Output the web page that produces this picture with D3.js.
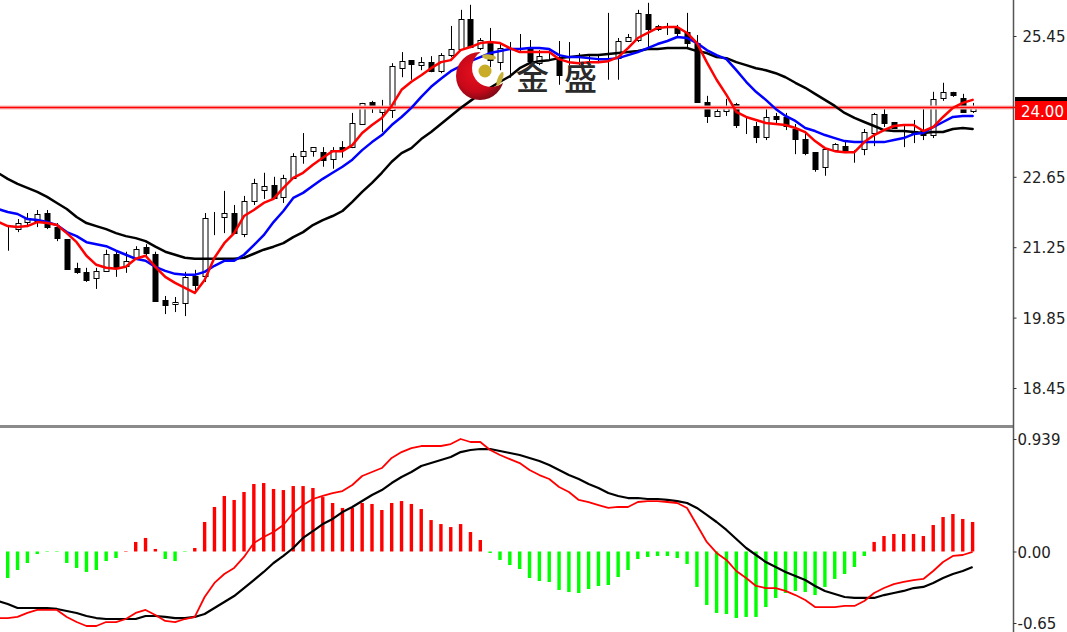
<!DOCTYPE html>
<html>
<head>
<meta charset="utf-8">
<script src="https://cdn.jsdelivr.net/npm/d3@7"></script>
<style>
html,body{margin:0;padding:0;background:#fff;overflow:hidden}
svg{display:block}
text{font-family:"DejaVu Sans",sans-serif}
</style>
</head>
<body>
<svg id="chart" width="1067" height="632"></svg>
<script>
const openV=[21.57,21.57,21.61,21.75,21.77,21.93,21.65,21.41,20.84,20.76,20.64,
20.78,21.12,20.88,21.04,21.26,21.12,20.20,20.12,20.14,20.68,
20.68,21.85,21.85,21.93,21.51,22.17,22.39,22.49,22.25,22.63,
23.06,23.16,23.14,23.01,23.24,23.24,23.70,24.14,23.94,23.98,
24.81,24.97,24.87,24.93,24.75,25.07,25.19,25.79,25.21,25.31,
24.93,25.17,25.19,25.19,24.91,25.13,25.03,25.01,25.03,25.01,
25.03,25.03,25.01,25.35,25.37,25.89,25.59,25.61,25.61,25.53,
25.31,24.14,23.86,23.96,24.10,23.66,23.66,23.44,23.86,23.84,
23.60,23.40,23.14,22.85,23.18,23.26,23.16,23.20,23.52,23.90,
23.74,23.56,23.56,23.58,23.48,24.22,24.34,24.22,23.96];
const closeV=[21.57,21.57,21.73,21.83,21.91,21.65,21.43,20.82,20.76,20.60,20.78,
21.12,20.84,20.98,21.22,21.14,20.18,20.10,20.16,20.66,20.50,
21.83,21.85,21.93,21.53,22.17,22.53,22.47,22.23,22.63,23.06,
23.16,23.24,22.99,23.18,23.20,23.72,24.12,24.08,24.02,24.85,
24.95,24.89,24.93,24.75,25.07,25.19,25.79,25.23,25.37,24.97,
25.21,25.17,25.19,24.95,25.05,25.13,24.67,25.01,25.03,25.01,
25.03,25.03,25.35,25.43,25.91,25.59,25.65,25.61,25.51,25.31,
24.14,23.86,23.96,24.06,23.68,23.66,23.44,23.84,23.80,23.66,
23.40,23.12,22.81,23.20,23.30,23.16,23.16,23.54,23.90,23.72,
23.62,23.56,23.52,23.48,24.20,24.34,24.28,23.94,24.06];
const highV=[21.60,21.69,21.81,21.93,21.99,21.99,21.73,21.41,20.94,20.84,20.84,
21.20,21.16,21.16,21.27,21.31,21.16,20.28,20.26,20.76,20.80,
21.93,21.95,22.37,22.09,22.27,22.61,22.73,22.65,22.69,23.12,
23.52,23.24,23.24,23.24,23.36,23.92,24.12,24.16,24.18,24.91,
25.13,24.97,25.03,25.05,25.11,25.65,25.97,26.07,25.41,25.61,
25.31,25.33,25.49,25.37,25.17,25.21,25.35,25.33,25.11,25.07,
25.07,25.91,25.41,25.49,25.97,26.11,25.67,25.71,25.67,25.91,
25.47,24.26,24.04,24.20,24.12,23.84,23.74,24.02,23.92,23.92,
23.70,23.52,23.14,23.20,23.32,23.38,23.18,23.60,23.92,24.02,
23.74,23.68,23.78,24.04,24.34,24.52,24.34,24.30,24.12];
const lowV=[21.50,21.18,21.55,21.65,21.65,21.61,21.37,20.82,20.72,20.56,20.42,
20.76,20.66,20.74,21.04,21.06,20.18,19.92,19.96,19.88,20.38,
20.56,21.49,21.53,21.53,21.45,22.09,22.21,22.23,22.13,22.61,
22.91,23.05,22.85,22.81,23.03,23.22,23.68,23.92,23.54,23.82,
24.63,24.58,24.77,24.73,24.71,25.03,25.17,25.21,25.17,24.83,
24.77,24.62,25.13,24.93,24.87,24.97,24.48,24.87,24.87,24.83,
24.91,24.58,24.58,25.33,25.33,25.17,25.55,25.47,25.41,25.23,
24.12,23.72,23.86,23.86,23.62,23.50,23.32,23.38,23.72,23.58,
23.10,23.08,22.75,22.67,23.18,23.12,22.93,23.08,23.26,23.64,
23.60,23.24,23.32,23.38,23.42,24.16,24.24,23.92,23.92];
const maSlow=[22.73,22.61,22.51,22.43,22.35,22.25,22.13,22.01,21.85,21.73,21.67,
21.61,21.53,21.47,21.43,21.37,21.26,21.16,21.10,21.04,21.02,
21.02,21.02,21.02,21.02,21.04,21.12,21.20,21.26,21.33,21.45,
21.55,21.69,21.79,21.87,21.97,22.15,22.35,22.53,22.73,22.95,
23.12,23.22,23.40,23.54,23.70,23.86,24.02,24.16,24.30,24.42,
24.54,24.65,24.81,24.91,24.95,24.97,25.01,25.03,25.05,25.07,
25.07,25.09,25.11,25.13,25.15,25.19,25.19,25.21,25.21,25.21,
25.15,25.11,25.03,25.01,24.93,24.87,24.81,24.77,24.71,24.63,
24.52,24.42,24.30,24.18,24.06,23.92,23.82,23.74,23.66,23.58,
23.56,23.56,23.54,23.52,23.54,23.54,23.60,23.62,23.60];
const maMid=[22.01,21.95,21.91,21.81,21.79,21.75,21.69,21.55,21.47,21.35,21.31,
21.27,21.18,21.10,21.02,20.98,20.86,20.78,20.72,20.70,20.70,
20.76,20.88,20.98,20.98,21.10,21.29,21.49,21.75,21.97,22.23,
22.33,22.47,22.61,22.73,22.85,22.99,23.18,23.34,23.48,23.68,
23.84,24.02,24.24,24.44,24.60,24.75,24.85,24.95,25.03,25.11,
25.15,25.19,25.19,25.21,25.21,25.19,25.07,25.03,25.03,25.01,
24.99,24.99,25.01,25.07,25.13,25.21,25.29,25.35,25.43,25.41,
25.31,25.17,25.07,24.99,24.77,24.54,24.34,24.18,24.00,23.86,
23.76,23.62,23.56,23.48,23.42,23.36,23.34,23.34,23.34,23.34,
23.38,23.42,23.50,23.52,23.64,23.74,23.84,23.86,23.86];
const maFast=[21.76,21.67,21.65,21.67,21.75,21.73,21.69,21.53,21.35,21.08,20.90,
20.84,20.82,20.86,21.02,21.08,20.86,20.66,20.54,20.44,20.34,
20.60,21.04,21.33,21.53,21.87,21.99,22.13,22.21,22.43,22.63,
22.73,22.89,23.03,23.16,23.16,23.28,23.52,23.68,23.82,24.06,
24.38,24.54,24.67,24.81,24.93,24.97,25.17,25.23,25.31,25.33,
25.31,25.21,25.13,25.13,25.13,25.13,24.99,24.93,24.91,24.93,
24.93,24.95,25.03,25.21,25.41,25.51,25.61,25.63,25.63,25.51,
25.31,24.93,24.58,24.28,23.94,23.84,23.78,23.72,23.70,23.68,
23.62,23.54,23.36,23.22,23.16,23.14,23.14,23.34,23.48,23.58,
23.66,23.68,23.68,23.56,23.64,23.84,24.02,24.12,24.18];
const macdHist=[-0.25,-0.219,-0.153,-0.095,-0.021,-0.004,-0.004,-0.095,-0.136,-0.169,-0.153,
-0.079,-0.054,0.004,0.079,0.112,0.021,-0.062,-0.079,-0.004,0.029,
0.244,0.368,0.459,0.426,0.492,0.558,0.566,0.517,0.508,0.541,
0.541,0.525,0.450,0.401,0.360,0.360,0.401,0.393,0.343,0.401,
0.417,0.393,0.351,0.260,0.227,0.202,0.227,0.161,0.095,-0.012,
-0.070,-0.112,-0.145,-0.219,-0.244,-0.252,-0.318,-0.335,-0.343,-0.310,
-0.285,-0.277,-0.211,-0.153,-0.062,-0.045,-0.037,-0.037,-0.054,-0.103,
-0.293,-0.442,-0.508,-0.517,-0.550,-0.541,-0.541,-0.459,-0.384,-0.343,
-0.326,-0.335,-0.360,-0.293,-0.227,-0.186,-0.128,-0.037,0.079,0.128,
0.145,0.145,0.145,0.128,0.219,0.285,0.310,0.269,0.244];
const macdSignal=[-0.409,-0.434,-0.467,-0.467,-0.467,-0.467,-0.475,-0.492,-0.508,-0.533,-0.550,
-0.558,-0.558,-0.558,-0.558,-0.533,-0.533,-0.541,-0.550,-0.550,-0.541,
-0.517,-0.467,-0.417,-0.368,-0.302,-0.236,-0.169,-0.095,-0.037,0.029,
0.112,0.169,0.227,0.269,0.326,0.368,0.417,0.467,0.508,0.566,
0.616,0.657,0.707,0.731,0.756,0.781,0.822,0.839,0.847,0.847,
0.831,0.814,0.798,0.773,0.748,0.715,0.674,0.632,0.599,0.558,
0.525,0.483,0.459,0.442,0.442,0.434,0.434,0.426,0.417,0.401,
0.360,0.302,0.244,0.178,0.103,0.029,-0.029,-0.087,-0.128,-0.169,
-0.202,-0.236,-0.285,-0.326,-0.351,-0.376,-0.384,-0.384,-0.384,-0.360,
-0.343,-0.326,-0.302,-0.293,-0.260,-0.219,-0.186,-0.161,-0.128];
const macdLine=[-0.550,-0.550,-0.541,-0.508,-0.483,-0.483,-0.483,-0.541,-0.583,-0.616,-0.616,
-0.583,-0.583,-0.558,-0.508,-0.483,-0.525,-0.574,-0.583,-0.558,-0.541,
-0.376,-0.260,-0.186,-0.136,-0.045,0.070,0.120,0.161,0.219,0.318,
0.384,0.434,0.459,0.483,0.500,0.550,0.624,0.657,0.690,0.773,
0.822,0.855,0.872,0.872,0.872,0.888,0.930,0.905,0.905,0.839,
0.798,0.764,0.731,0.674,0.632,0.599,0.533,0.492,0.426,0.409,
0.384,0.360,0.368,0.368,0.409,0.417,0.417,0.409,0.401,0.360,
0.219,0.079,-0.012,-0.070,-0.161,-0.219,-0.285,-0.302,-0.302,-0.326,
-0.360,-0.401,-0.459,-0.459,-0.459,-0.450,-0.450,-0.409,-0.343,-0.302,
-0.269,-0.252,-0.236,-0.227,-0.161,-0.087,-0.037,-0.029,-0.004];
const priceTicks=[25.45,22.65,21.25,19.85,18.45];
const macdTicks=[0.939,0,-0.65];
const macdTickLabels=["0.939","0.00","-0.65"];
const lastPrice=24.03;
const lastPriceLabel="24.00";
const brandText="金盛";

const svg=d3.select("#chart");
const n=openV.length;
const x=d3.scaleLinear().domain([0,n-1]).range([-2.15,972.6]);
const yP=d3.scaleLinear().domain([18.45,25.45]).range([388,36]);
const yM=d3.scaleLinear().domain([0,0.939]).range([551.5,437.9]);
const yMAxis=d3.scaleLinear().domain([-0.65,0,0.939]).range([623,551.5,439]);
const idx=d3.range(n);

const defs=svg.append("defs");
defs.append("clipPath").attr("id","priceClip").append("rect").attr("width",1013).attr("height",424);
defs.append("clipPath").attr("id","macdClip").append("rect").attr("y",428).attr("width",1013).attr("height",204);
const grad=defs.append("radialGradient").attr("id","ball").attr("cx","0.42").attr("cy","0.42").attr("r","0.62");
grad.append("stop").attr("offset","0").attr("stop-color","#e8101c");
grad.append("stop").attr("offset","0.65").attr("stop-color","#c8081a");
grad.append("stop").attr("offset","1").attr("stop-color","#7a0a14");
const mask=defs.append("mask").attr("id","bite").attr("maskUnits","userSpaceOnUse")
  .attr("x",440).attr("y",40).attr("width",80).attr("height",70);
mask.append("rect").attr("x",440).attr("y",40).attr("width",80).attr("height",70).attr("fill","#fff");
mask.append("circle").attr("cx",491).attr("cy",68).attr("r",19).attr("fill","#000");

// price pane
const pane=svg.append("g").attr("clip-path","url(#priceClip)");
const px=i=>Math.round(x(i));

pane.append("g").selectAll("line").data(idx).join("line")
  .attr("x1",i=>px(i)+0.5).attr("x2",i=>px(i)+0.5)
  .attr("y1",i=>yP(highV[i])).attr("y2",i=>yP(lowV[i]))
  .attr("stroke","#000").attr("stroke-width",1);
pane.append("g").selectAll("rect").data(idx).join("rect")
  .attr("x",i=>px(i)-2).attr("width",5)
  .attr("y",i=>Math.round(yP(Math.max(openV[i],closeV[i])))+0.5)
  .attr("height",i=>Math.round(Math.abs(yP(openV[i])-yP(closeV[i]))))
  .attr("fill",i=>closeV[i]>openV[i]?"#fff":"#000")
  .attr("stroke","#000").attr("stroke-width",1);

// last price line
pane.append("line").attr("x1",0).attr("x2",1013).attr("y1",yP(lastPrice)).attr("y2",yP(lastPrice))
  .attr("stroke","#f7b5b5").attr("stroke-width",4);
pane.append("line").attr("x1",0).attr("x2",1013).attr("y1",yP(lastPrice)).attr("y2",yP(lastPrice))
  .attr("stroke","#f00").attr("stroke-width",1.5);

const linePrice=arr=>d3.line().x(i=>x(i)).y(i=>yP(arr[i]))(idx);
[[maSlow,"#000"],[maMid,"#0000ff"],[maFast,"#ff0000"]].forEach(([arr,c])=>{
  pane.append("path").attr("d",linePrice(arr)).attr("fill","none").attr("stroke",c)
    .attr("stroke-width",2.5).attr("stroke-linejoin","round").attr("stroke-linecap","round");
});

// watermark
const wm=svg.append("g");
wm.append("circle").attr("cx",480).attr("cy",76).attr("r",24).attr("fill","url(#ball)").attr("mask","url(#bite)");
wm.append("circle").attr("cx",485).attr("cy",71).attr("r",6.5).attr("fill","#c9ad28");
wm.append("ellipse").attr("cx",489).attr("cy",57).attr("rx",7).attr("ry",2.6).attr("transform","rotate(8 489 57)").attr("fill","#c9b23a");
wm.append("ellipse").attr("cx",500).attr("cy",79).attr("rx",2.4).attr("ry",7.5).attr("transform","rotate(22 500 79)").attr("fill","#c9b23a");
wm.append("text").attr("x",516).attr("y",90).text(brandText)
  .style("font-family",'"Noto Sans CJK SC"').style("font-size","33px").style("font-weight","500")
  .style("letter-spacing","15px").attr("fill","#2a2a2a");

// macd pane
const mp=svg.append("g").attr("clip-path","url(#macdClip)");
mp.append("g").selectAll("rect").data(idx).join("rect")
  .attr("x",i=>x(i)-1.7).attr("width",3.4)
  .attr("y",i=>Math.min(yM(macdHist[i]),yM(0)))
  .attr("height",i=>Math.abs(yM(macdHist[i])-yM(0)))
  .attr("fill",i=>macdHist[i]>=0?"#f00":"#00ff00");
const lineM=arr=>d3.line().x(i=>x(i)).y(i=>yM(arr[i]))(idx);
mp.append("path").attr("d",lineM(macdSignal)).attr("fill","none").attr("stroke","#000").attr("stroke-width",2.2).attr("stroke-linejoin","round");
mp.append("path").attr("d",lineM(macdLine)).attr("fill","none").attr("stroke","#f00").attr("stroke-width",1.8).attr("stroke-linejoin","round");

// frame
svg.append("rect").attr("x",0).attr("y",425).attr("width",1013).attr("height",3).attr("fill","#8a8a8a");
svg.append("line").attr("x1",1013.5).attr("x2",1013.5).attr("y1",0).attr("y2",632).attr("stroke","#555").attr("stroke-width",1.5);

// axes
const axP=svg.append("g").attr("transform","translate(1013.5,0)")
  .call(d3.axisRight(yP).tickValues(priceTicks).tickFormat(d3.format(".2f")).tickSize(3).tickPadding(6));
const axM=svg.append("g").attr("transform","translate(1013.5,0)")
  .call(d3.axisRight(yMAxis).tickValues(macdTicks).tickFormat((d,i)=>macdTickLabels[i]).tickSize(3).tickPadding(1));
[axP,axM].forEach(a=>{
  a.select(".domain").remove();
  a.selectAll("line").attr("stroke","#333");
  a.selectAll("text").style("font-family",'"DejaVu Sans"').style("font-size","15px").attr("fill","#222").attr("dy","0.38em");
});

// last price tag
svg.append("rect").attr("x",1015).attr("y",97).attr("width",52).attr("height",5).attr("fill","#000");
svg.append("rect").attr("x",1015).attr("y",101).attr("width",52).attr("height",19).attr("fill","#f00");
svg.append("text").attr("x",1021).attr("y",116.5).text(lastPriceLabel)
  .style("font-size","15px").attr("fill","#fff");
svg.append("line").attr("x1",1013).attr("x2",1016).attr("y1",yP(lastPrice)).attr("y2",yP(lastPrice)).attr("stroke","#f00").attr("stroke-width",1.5);
</script>
</body>
</html>
